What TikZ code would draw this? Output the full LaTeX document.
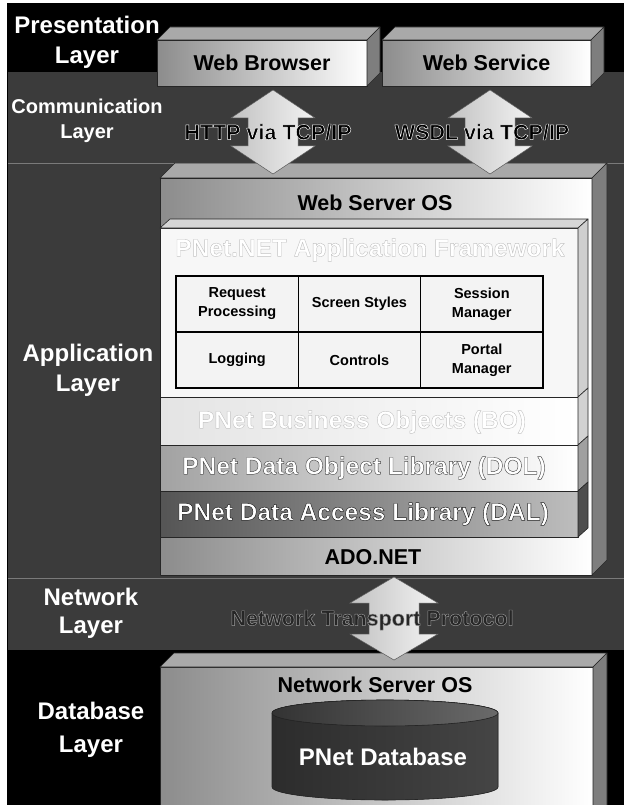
\documentclass[tikz,border=0pt]{standalone}
\usepackage{fontspec}
\setmainfont{Liberation Sans}
\usepackage{graphicx}

\definecolor{bandgrey}{HTML}{3B3B3B}
\definecolor{sepgrey}{HTML}{7A7A7A}
\definecolor{faceL}{HTML}{8C8C8C}
\definecolor{faceM}{HTML}{EDEDED}
\definecolor{topgrey}{HTML}{A9A9A9}
\definecolor{sidegrey}{HTML}{7E7E7E}
\definecolor{fwfront}{HTML}{F7F7F7}
\definecolor{fwtop}{HTML}{D6D6D6}
\definecolor{fwside}{HTML}{CFCFCF}
\definecolor{boL}{HTML}{E4E4E4}
\definecolor{boside}{HTML}{D2D2D2}
\definecolor{dolL}{HTML}{A2A2A2}
\definecolor{dolM}{HTML}{E2E2E2}
\definecolor{dolside}{HTML}{A0A0A0}
\definecolor{dalL}{HTML}{555555}
\definecolor{dalM}{HTML}{8C8C8C}
\definecolor{dalR}{HTML}{BDBDBD}
\definecolor{dalside}{HTML}{4E4E4E}
\definecolor{cellfill}{HTML}{F3F3F3}
\definecolor{arrowL}{HTML}{C2C2C2}
\definecolor{arrowR}{HTML}{F3F3F3}
\definecolor{cylL}{HTML}{2C2C2C}
\definecolor{cylM}{HTML}{767676}
\definecolor{cylR}{HTML}{454545}
\definecolor{cyltopL}{HTML}{333333}
\definecolor{cyltopR}{HTML}{6A6A6A}

% outlined text: #1 stroke colour (r g b), #2 stroke width, #3 text
\newcommand\outl[3]{\special{pdf:literal #1 RG #2 w 1 j 2 Tr}#3\special{pdf:literal 0 Tr}}

% top and right faces of a box whose front face is the node #1
\newcommand\topface[4]{%
  \filldraw[edge, fill=#4] (#1.north west) -- ++(#2,#3) -- ([shift={(#2,#3)}]#1.north east) -- (#1.north east) -- cycle;}
\newcommand\sideface[4]{%
  \filldraw[edge, fill=#4] (#1.north east) -- ++(#2,#3) -- ([shift={(#2,#3)}]#1.south east) -- (#1.south east) -- cycle;}

% vertical block double arrow: centre, half length, head length, head half width, shaft half width
\newcommand\dblarrow[5]{%
  \filldraw[arrowbody] ([shift={(0,-#2)}]#1) -- ([shift={(#4,-#2+#3)}]#1) -- ([shift={(#5,-#2+#3)}]#1)
    -- ([shift={(#5,#2-#3)}]#1) -- ([shift={(#4,#2-#3)}]#1) -- ([shift={(0,#2)}]#1)
    -- ([shift={(-#4,#2-#3)}]#1) -- ([shift={(-#5,#2-#3)}]#1) -- ([shift={(-#5,-#2+#3)}]#1)
    -- ([shift={(-#4,-#2+#3)}]#1) -- cycle;}

\begin{document}
\begin{tikzpicture}[x=1pt, y=-1pt,
  edge/.style={draw=black!85, line width=0.6pt, line join=round},
  frontface/.style={edge, left color=faceL, middle color=faceM, right color=white, inner sep=0pt, outer sep=0pt},
  slabface/.style={edge, inner sep=0pt, outer sep=0pt, minimum width=418pt},
  layerlbl/.style={text=white, font=\fontsize{24}{30}\selectfont\bfseries, align=center, inner sep=0pt},
  boxtxt/.style={font=\fontsize{21.5}{26}\selectfont\bfseries, inner sep=0pt},
  slabtxt/.style={text=white, font=\fontsize{24.5}{29}\selectfont\bfseries, inner sep=0pt},
  cell/.style={draw=black, line width=1.4pt, fill=cellfill, minimum width=122.3pt, minimum height=56pt,
    inner sep=0pt, align=center, font=\fontsize{14.5}{19}\selectfont\bfseries},
  arrowbody/.style={draw=black!60, line width=0.5pt, left color=arrowL, right color=arrowR},
  sepline/.style={draw=sepgrey, line width=0.8pt}]

\useasboundingbox (0,0) rectangle (624,805);
\fill[white] (0,0) rectangle (624,805);

% layer bands
\fill[black] (7,4) rectangle (624,72);
\fill[bandgrey] (7,72) rectangle (624,650);
\fill[black] (7,650) rectangle (624,805);
\draw[sepline] (7,163) -- (624,163);
\draw[sepline] (7,578) -- (624,578);
\draw[black, line width=1pt] (7,805) -- (7,4) -- (624,4);

% layer names
\node[layerlbl] (presLbl) at (87,42) {Presentation\\Layer};
\node[layerlbl, font=\fontsize{20}{25}\selectfont\bfseries] (commLbl) at (87,121) {Communication\\Layer};
\node[layerlbl] (appLbl) at (88,370) {Application\\Layer};
\node[layerlbl, font=\fontsize{24}{28}\selectfont\bfseries] (netLbl) at (91,613) {Network\\Layer};
\node[layerlbl, font=\fontsize{24}{33}\selectfont\bfseries] (dbLbl) at (91,730) {Database\\Layer};

% presentation clients
\node[frontface, minimum width=210pt, minimum height=46pt, font=\fontsize{21.5}{26}\selectfont\bfseries] (browser) at (262,63) {Web Browser};
\topface{browser}{13}{-13}{topgrey}
\sideface{browser}{13}{-13}{sidegrey}
\node[frontface, minimum width=209pt, minimum height=46pt, font=\fontsize{21.5}{26}\selectfont\bfseries] (service) at (486.5,63) {Web Service};
\topface{service}{13}{-13}{topgrey}
\sideface{service}{13}{-13}{sidegrey}

% web server
\node[frontface, minimum width=432pt, minimum height=397pt] (server) at (376,376.5) {};
\topface{server}{15}{-15}{topgrey}
\sideface{server}{15}{-15}{sidegrey}
\node[boxtxt] (serverTxt) at (375,203) {Web Server OS};
\node[boxtxt] (adoTxt) at (373,557) {ADO.NET};

% application slabs
\node[slabface, minimum height=169pt, fill=fwfront] (framework) at (369,312.5) {};
\topface{framework}{10}{-9}{fwtop}
\sideface{framework}{10}{-9}{fwside}
\node[slabface, minimum height=48pt, left color=boL, right color=white] (bo) at (369,421) {};
\sideface{bo}{10}{-9}{boside}
\node[slabface, minimum height=46pt, left color=dolL, middle color=dolM, right color=white] (dol) at (369,468) {};
\sideface{dol}{10}{-9}{dolside}
\node[slabface, minimum height=46pt, left color=dalL, middle color=dalM, right color=dalR] (dal) at (369,514) {};
\sideface{dal}{10}{-9}{dalside}

\node[slabtxt] (fwTxt) at (370,250) {\outl{0.76 0.76 0.76}{0.4}{PNet.NET Application Framework}};
\node[slabtxt] (boTxt) at (362,422) {\outl{0.76 0.76 0.76}{0.4}{PNet Business Objects (BO)}};
\node[slabtxt] (dolTxt) at (364,468) {\outl{0.3 0.3 0.3}{0.45}{PNet Data Object Library (DOL)}};
\node[slabtxt] (dalTxt) at (363,514) {\outl{0.1 0.1 0.1}{0.45}{PNet Data Access Library (DAL)}};

% framework components
\node[cell] (reqCell) at (237.2,304) {Request\\Processing};
\node[cell] (styleCell) at (359.5,304) {Screen Styles};
\node[cell] (sessCell) at (481.8,304) {Session\\Manager};
\node[cell] (logCell) at (237.2,360) {Logging};
\node[cell] (ctrlCell) at (359.5,360) {Controls};
\node[cell] (portalCell) at (481.8,360) {Portal\\Manager};

% communication links
\coordinate (httpMid) at (273,132);
\coordinate (wsdlMid) at (490,132);
\dblarrow{httpMid}{42}{28}{42}{25}
\dblarrow{wsdlMid}{42}{28}{42}{25}
\node[boxtxt] (httpTxt) at (268,132) {\outl{1 1 1}{0.45}{HTTP via TCP/IP}};
\node[boxtxt] (wsdlTxt) at (482,132) {\outl{1 1 1}{0.45}{WSDL via TCP/IP}};

% database server
\node[frontface, minimum width=433pt, minimum height=160pt] (netserver) at (376.5,747) {};
\topface{netserver}{14}{-14}{topgrey}
\sideface{netserver}{14}{-14}{sidegrey}
\node[boxtxt] (netSrvTxt) at (375,685) {Network Server OS};

\coordinate (dbTop) at (385,713);
\coordinate (dbBot) at (385,787);
\filldraw[edge, left color=cylL, middle color=cylM, right color=cylR]
  ([xshift=-113pt]dbTop) -- ([xshift=-113pt]dbBot) arc[start angle=180, end angle=0, x radius=113, y radius=13]
  -- ([xshift=113pt]dbTop) arc[start angle=0, end angle=-180, x radius=113, y radius=13] -- cycle;
\filldraw[edge, left color=cyltopL, right color=cyltopR] (dbTop) ellipse[x radius=113, y radius=13];
\node[text=white, font=\fontsize{24}{28}\selectfont\bfseries, inner sep=0pt] (dbTxt) at (383,757) {PNet Database};

% network link
\coordinate (netMid) at (394,618.5);
\dblarrow{netMid}{41.5}{26}{44}{25}
\node[boxtxt, text=black!85] (protoTxt) at (372,620) {\outl{0.6 0.6 0.6}{0.45}{Network Transport Protocol}};

\end{tikzpicture}
\end{document}
